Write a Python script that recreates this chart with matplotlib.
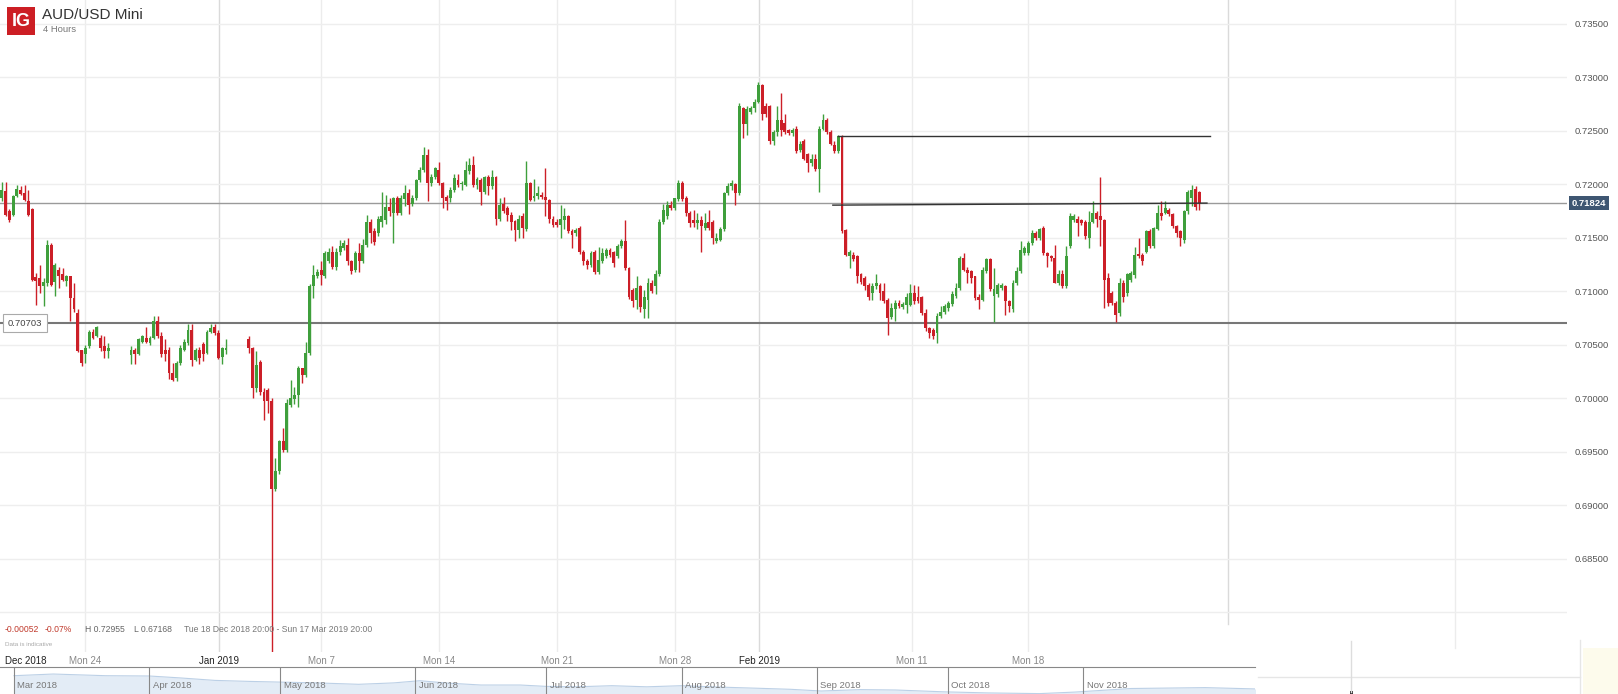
import numpy as np
import matplotlib
matplotlib.use("Agg")
import matplotlib.pyplot as plt
import matplotlib.dates as mdates
import matplotlib.transforms as mtransforms
from matplotlib.patches import Rectangle
from matplotlib.lines import Line2D
from datetime import datetime

plt.rcParams['font.family'] = ['Liberation Sans', 'DejaVu Sans']

# AUD/USD 4h candles, one slot per 4 hours (None = no candle, holidays)
opens = [
    0.7187, 0.7194, 0.7175, 0.7171, 0.7189, 0.7195, 0.7192, 0.7184, 0.7177, 0.7113,
    0.7112, 0.7105, 0.7108, 0.7143, 0.7109, 0.7120, 0.7116, 0.7110, 0.7114, 0.7094,
    0.7080, 0.7045, 0.7041, 0.7049, 0.7062, 0.7058, 0.7056, 0.7049, 0.7044, None,
    None, None, None, None, 0.7040, 0.7045, 0.7041, 0.7053, 0.7056, 0.7052,
    0.7056, 0.7072, 0.7058, 0.7045, 0.7045, 0.7024, 0.7019, 0.7033, 0.7045, 0.7052,
    0.7064, 0.7036, 0.7045, 0.7051, 0.7042, 0.7062, 0.7067, 0.7061, 0.7039, 0.7045,
    None, None, None, None, None, 0.7055, 0.7047, 0.7010, 0.7034, 0.7006,
    0.7008, 0.6997, 0.6915, 0.6932, 0.6960, 0.6952, 0.6994, 0.6999, 0.7003, 0.7028,
    0.7022, 0.7042, 0.7105, 0.7114, 0.7120, 0.7114, 0.7128, 0.7137, 0.7123, 0.7137,
    0.7140, 0.7143, 0.7128, 0.7120, 0.7136, 0.7128, 0.7143, 0.7165, 0.7156, 0.7154,
    0.7165, 0.7167, 0.7179, 0.7173, 0.7187, 0.7173, 0.7186, 0.7192, 0.7182, 0.7187,
    0.7204, 0.7213, 0.7227, 0.7201, 0.7207, 0.7213, 0.7201, 0.7188, 0.7187, 0.7195,
    0.7204, 0.7200, 0.7199, 0.7212, 0.7218, 0.7199, 0.7204, 0.7193, 0.7207, 0.7198,
    0.7207, 0.7168, 0.7182, 0.7178, 0.7171, 0.7166, 0.7157, 0.7170, 0.7158, 0.7201,
    0.7187, 0.7189, 0.7190, 0.7188, 0.7185, 0.7168, 0.7165, 0.7162, 0.7167, 0.7170,
    0.7156, 0.7154, 0.7159, 0.7137, 0.7128, 0.7125, 0.7137, 0.7118, 0.7128, 0.7133,
    0.7139, 0.7137, 0.7133, 0.7142, 0.7147, 0.7122, 0.7101, 0.7092, 0.7105, 0.7083,
    0.7092, 0.7108, 0.7105, 0.7116, 0.7165, 0.7170, 0.7181, 0.7178, 0.7186, 0.7201,
    0.7187, 0.7173, 0.7167, 0.7164, 0.7167, 0.7159, 0.7165, 0.7165, 0.7147, 0.7148,
    0.7158, 0.7192, 0.7198, 0.7200, 0.7192, 0.7271, 0.7256, 0.7268, 0.7271, 0.7277,
    0.7293, 0.7273, 0.7273, 0.7240, 0.7249, 0.7260, 0.7257, 0.7251, 0.7248, 0.7252,
    0.7232, 0.7240, 0.7228, 0.7220, 0.7224, 0.7214, 0.7252, 0.7260, 0.7249, 0.7237,
    0.7231, 0.7245, 0.7157, 0.7133, 0.7134, 0.7133, 0.7116, 0.7112, 0.7106, 0.7098,
    0.7105, 0.7106, 0.7100, 0.7092, 0.7076, 0.7083, 0.7089, 0.7085, 0.7087, 0.7087,
    0.7098, 0.7095, 0.7095, 0.7080, 0.7066, 0.7064, 0.7061, 0.7077, 0.7081, 0.7084,
    0.7088, 0.7096, 0.7103, 0.7131, 0.7120, 0.7119, 0.7114, 0.7095, 0.7092, 0.7119,
    0.7130, 0.7096, 0.7097, 0.7103, 0.7105, 0.7091, 0.7083, 0.7108, 0.7119, 0.7136,
    0.7136, 0.7145, 0.7154, 0.7150, 0.7159, 0.7136, 0.7133, 0.7131, 0.7108, 0.7116,
    0.7105, 0.7142, 0.7167, 0.7168, 0.7167, 0.7165, 0.7150, 0.7165, 0.7173, 0.7170,
    0.7167, 0.7112, 0.7098, 0.7089, 0.7080, 0.7108, 0.7098, 0.7111, 0.7115, 0.7135,
    0.7134, 0.7137, 0.7156, 0.7142, 0.7158, 0.7173, 0.7173, 0.7176, 0.7172, 0.7161,
    0.7156, 0.7148, 0.7175, 0.7187, 0.7196, 0.7193,
]
highs = [
    0.7202, 0.7202, 0.7177, 0.7190, 0.7199, 0.7198, 0.7199, 0.7195, 0.7178, 0.7117,
    0.7125, 0.7112, 0.7148, 0.7145, 0.7126, 0.7123, 0.7122, 0.7115, 0.7114, 0.7108,
    0.7083, 0.7045, 0.7050, 0.7064, 0.7065, 0.7068, 0.7059, 0.7058, 0.7052, None,
    None, None, None, None, 0.7049, 0.7047, 0.7056, 0.7059, 0.7067, 0.7058,
    0.7077, 0.7077, 0.7062, 0.7055, 0.7048, 0.7033, 0.7035, 0.7050, 0.7055, 0.7069,
    0.7069, 0.7047, 0.7048, 0.7053, 0.7064, 0.7069, 0.7069, 0.7064, 0.7048, 0.7055,
    None, None, None, None, None, 0.7058, 0.7048, 0.7044, 0.7036, 0.7010,
    0.7010, 0.7000, 0.6944, 0.6961, 0.6972, 0.6999, 0.7017, 0.7011, 0.7030, 0.7028,
    0.7053, 0.7107, 0.7125, 0.7121, 0.7128, 0.7138, 0.7140, 0.7142, 0.7140, 0.7148,
    0.7148, 0.7150, 0.7129, 0.7138, 0.7145, 0.7149, 0.7171, 0.7168, 0.7159, 0.7170,
    0.7193, 0.7190, 0.7187, 0.7188, 0.7189, 0.7190, 0.7199, 0.7196, 0.7190, 0.7205,
    0.7216, 0.7235, 0.7233, 0.7210, 0.7216, 0.7221, 0.7202, 0.7190, 0.7197, 0.7210,
    0.7210, 0.7203, 0.7222, 0.7225, 0.7226, 0.7207, 0.7206, 0.7208, 0.7209, 0.7213,
    0.7208, 0.7187, 0.7188, 0.7180, 0.7174, 0.7167, 0.7171, 0.7173, 0.7222, 0.7202,
    0.7205, 0.7198, 0.7193, 0.7215, 0.7186, 0.7170, 0.7168, 0.7181, 0.7178, 0.7171,
    0.7158, 0.7159, 0.7161, 0.7139, 0.7130, 0.7138, 0.7139, 0.7141, 0.7140, 0.7140,
    0.7140, 0.7138, 0.7144, 0.7149, 0.7167, 0.7123, 0.7103, 0.7114, 0.7106, 0.7101,
    0.7112, 0.7111, 0.7120, 0.7168, 0.7182, 0.7184, 0.7184, 0.7187, 0.7204, 0.7203,
    0.7189, 0.7175, 0.7176, 0.7173, 0.7170, 0.7173, 0.7176, 0.7167, 0.7154, 0.7160,
    0.7193, 0.7201, 0.7204, 0.7201, 0.7276, 0.7272, 0.7273, 0.7273, 0.7280, 0.72955,
    0.7294, 0.7276, 0.7274, 0.7251, 0.7273, 0.7285, 0.7266, 0.7252, 0.7253, 0.7254,
    0.7240, 0.7242, 0.7229, 0.7228, 0.7228, 0.7254, 0.7266, 0.7262, 0.7251, 0.7240,
    0.7246, 0.7246, 0.7158, 0.7139, 0.7137, 0.7134, 0.7117, 0.7114, 0.7108, 0.7108,
    0.7116, 0.7108, 0.7108, 0.7094, 0.7089, 0.7092, 0.7092, 0.7090, 0.7098, 0.7107,
    0.7106, 0.7105, 0.7096, 0.7083, 0.7067, 0.7066, 0.7080, 0.7086, 0.7088, 0.7091,
    0.7100, 0.7108, 0.7133, 0.7136, 0.7123, 0.7120, 0.7114, 0.7097, 0.7123, 0.7131,
    0.7131, 0.7122, 0.7108, 0.7108, 0.7106, 0.7092, 0.7111, 0.7123, 0.7147, 0.7142,
    0.7147, 0.7157, 0.7156, 0.7159, 0.7161, 0.7137, 0.7134, 0.7143, 0.7120, 0.7120,
    0.7142, 0.7173, 0.7172, 0.7170, 0.7168, 0.7167, 0.7175, 0.7184, 0.7175, 0.7207,
    0.7168, 0.7117, 0.7100, 0.7091, 0.7112, 0.7111, 0.7117, 0.7119, 0.7141, 0.7150,
    0.7136, 0.7157, 0.7158, 0.7160, 0.7181, 0.7184, 0.7184, 0.7178, 0.7173, 0.7162,
    0.7157, 0.7176, 0.7195, 0.7199, 0.7198, 0.7194,
]
lows = [
    0.7184, 0.7170, 0.7165, 0.7170, 0.7188, 0.7190, 0.7184, 0.7170, 0.7110, 0.7087,
    0.7098, 0.7086, 0.7105, 0.7105, 0.7096, 0.7103, 0.7110, 0.7105, 0.7072, 0.7081,
    0.7043, 0.7030, 0.7033, 0.7047, 0.7055, 0.7057, 0.7044, 0.7038, 0.7038, None,
    None, None, None, None, 0.7032, 0.7032, 0.7040, 0.7052, 0.7052, 0.7050,
    0.7055, 0.7056, 0.7039, 0.7035, 0.7018, 0.7016, 0.7016, 0.7031, 0.7044, 0.7050,
    0.7030, 0.7035, 0.7032, 0.7035, 0.7041, 0.7061, 0.7059, 0.7037, 0.7032, 0.7041,
    None, None, None, None, None, 0.7042, 0.7000, 0.7006, 0.7003, 0.6980,
    0.6986, 0.67168, 0.6913, 0.6929, 0.6950, 0.6950, 0.6992, 0.6995, 0.6992, 0.7014,
    0.7020, 0.7040, 0.7094, 0.7112, 0.7106, 0.7112, 0.7126, 0.7121, 0.7120, 0.7134,
    0.7139, 0.7125, 0.7116, 0.7118, 0.7118, 0.7126, 0.7141, 0.7145, 0.7143, 0.7152,
    0.7160, 0.7163, 0.7170, 0.7145, 0.7171, 0.7171, 0.7180, 0.7172, 0.7180, 0.7185,
    0.7202, 0.7211, 0.7184, 0.7198, 0.7205, 0.7199, 0.7178, 0.7176, 0.7183, 0.7193,
    0.7197, 0.7195, 0.7198, 0.7210, 0.7197, 0.7196, 0.7181, 0.7191, 0.7190, 0.7196,
    0.7162, 0.7166, 0.7173, 0.7166, 0.7157, 0.7147, 0.7150, 0.7150, 0.7156, 0.7184,
    0.7184, 0.7186, 0.7186, 0.7170, 0.7164, 0.7160, 0.7160, 0.7150, 0.7158, 0.7154,
    0.7140, 0.7152, 0.7135, 0.7125, 0.7121, 0.7123, 0.7116, 0.7116, 0.7126, 0.7131,
    0.7132, 0.7123, 0.7131, 0.7140, 0.7120, 0.7093, 0.7085, 0.7083, 0.7081, 0.7075,
    0.7075, 0.7098, 0.7097, 0.7114, 0.7163, 0.7168, 0.7176, 0.7176, 0.7184, 0.7184,
    0.7170, 0.7160, 0.7160, 0.7158, 0.7137, 0.7157, 0.7157, 0.7144, 0.7145, 0.7147,
    0.7156, 0.7190, 0.7195, 0.7181, 0.7190, 0.7243, 0.7246, 0.7266, 0.7268, 0.7276,
    0.7260, 0.7263, 0.7238, 0.7237, 0.7245, 0.7245, 0.7247, 0.7246, 0.7245, 0.7229,
    0.7230, 0.7223, 0.7211, 0.7217, 0.7212, 0.7193, 0.7251, 0.7247, 0.7237, 0.7229,
    0.7229, 0.7154, 0.7133, 0.7122, 0.7128, 0.7108, 0.7107, 0.7101, 0.7092, 0.7092,
    0.7102, 0.7092, 0.7089, 0.70596, 0.7074, 0.7072, 0.7084, 0.7083, 0.7080, 0.7086,
    0.7088, 0.7089, 0.7078, 0.7063, 0.7056, 0.7055, 0.7052, 0.7075, 0.7079, 0.7082,
    0.7086, 0.7094, 0.7101, 0.7119, 0.7108, 0.7108, 0.7092, 0.7083, 0.7091, 0.7117,
    0.7100, 0.7071, 0.7095, 0.7101, 0.7078, 0.7081, 0.7081, 0.7106, 0.7117, 0.7134,
    0.7134, 0.7143, 0.7148, 0.7148, 0.7134, 0.7123, 0.7128, 0.7108, 0.7106, 0.7103,
    0.7103, 0.7140, 0.7165, 0.7152, 0.7162, 0.7149, 0.7140, 0.7164, 0.7160, 0.7142,
    0.7084, 0.7086, 0.7087, 0.7071, 0.7077, 0.7090, 0.7096, 0.7109, 0.7112, 0.7131,
    0.7125, 0.7136, 0.7140, 0.7140, 0.7157, 0.7167, 0.7172, 0.7170, 0.7159, 0.7151,
    0.7142, 0.7145, 0.7172, 0.7180, 0.7176, 0.7176,
]
closes = [
    0.7195, 0.7171, 0.7167, 0.7189, 0.7196, 0.7191, 0.7185, 0.7171, 0.7111, 0.7110,
    0.7105, 0.7109, 0.7143, 0.7106, 0.7125, 0.7114, 0.7111, 0.7114, 0.7094, 0.7083,
    0.7044, 0.7033, 0.7047, 0.7062, 0.7056, 0.7067, 0.7047, 0.7044, 0.7047, None,
    None, None, None, None, 0.7045, 0.7041, 0.7055, 0.7058, 0.7053, 0.7056,
    0.7072, 0.7058, 0.7041, 0.7041, 0.7024, 0.7017, 0.7033, 0.7047, 0.7053, 0.7064,
    0.7036, 0.7045, 0.7038, 0.7041, 0.7062, 0.7066, 0.7061, 0.7038, 0.7047, 0.7047,
    None, None, None, None, None, 0.7047, 0.7010, 0.7031, 0.7006, 0.6997,
    0.6997, 0.6915, 0.6932, 0.6960, 0.6952, 0.6996, 0.7000, 0.7003, 0.7028, 0.7022,
    0.7042, 0.7105, 0.7115, 0.7118, 0.7115, 0.7136, 0.7137, 0.7123, 0.7137, 0.7142,
    0.7145, 0.7128, 0.7119, 0.7136, 0.7128, 0.7143, 0.7165, 0.7154, 0.7146, 0.7168,
    0.7170, 0.7179, 0.7175, 0.7187, 0.7173, 0.7187, 0.7192, 0.7181, 0.7187, 0.7204,
    0.7213, 0.7227, 0.7201, 0.7207, 0.7215, 0.7201, 0.7187, 0.7184, 0.7195, 0.7206,
    0.7199, 0.7201, 0.7213, 0.7218, 0.7199, 0.7205, 0.7193, 0.7207, 0.7198, 0.7207,
    0.7168, 0.7181, 0.7175, 0.7171, 0.7165, 0.7157, 0.7168, 0.7159, 0.7201, 0.7185,
    0.7189, 0.7192, 0.7188, 0.7185, 0.7168, 0.7162, 0.7162, 0.7168, 0.7170, 0.7156,
    0.7153, 0.7157, 0.7137, 0.7128, 0.7125, 0.7136, 0.7118, 0.7129, 0.7136, 0.7139,
    0.7134, 0.7126, 0.7142, 0.7147, 0.7122, 0.7095, 0.7091, 0.7103, 0.7085, 0.7095,
    0.7108, 0.7100, 0.7116, 0.7165, 0.7176, 0.7181, 0.7178, 0.7187, 0.7201, 0.7186,
    0.7173, 0.7164, 0.7164, 0.7167, 0.7161, 0.7164, 0.7159, 0.7150, 0.7150, 0.7158,
    0.7192, 0.7198, 0.7201, 0.7192, 0.7273, 0.7256, 0.7270, 0.7271, 0.7277, 0.7293,
    0.7266, 0.7266, 0.7240, 0.7249, 0.7260, 0.7251, 0.7249, 0.7248, 0.7251, 0.7231,
    0.7238, 0.7224, 0.7220, 0.7224, 0.7214, 0.7252, 0.7260, 0.7249, 0.7238, 0.7231,
    0.7245, 0.7156, 0.7134, 0.7137, 0.7130, 0.7114, 0.7109, 0.7105, 0.7095, 0.7105,
    0.7108, 0.7098, 0.7091, 0.7075, 0.7084, 0.7089, 0.7086, 0.7088, 0.7095, 0.7098,
    0.7091, 0.7091, 0.7080, 0.7066, 0.7061, 0.7058, 0.7077, 0.7081, 0.7086, 0.7089,
    0.7097, 0.7103, 0.7131, 0.7120, 0.7117, 0.7112, 0.7094, 0.7092, 0.7120, 0.7130,
    0.7102, 0.7102, 0.7106, 0.7106, 0.7091, 0.7086, 0.7108, 0.7119, 0.7139, 0.7140,
    0.7145, 0.7154, 0.7150, 0.7158, 0.7136, 0.7133, 0.7131, 0.7108, 0.7116, 0.7105,
    0.7133, 0.7170, 0.7170, 0.7164, 0.7164, 0.7152, 0.7165, 0.7173, 0.7168, 0.7167,
    0.7111, 0.7089, 0.7089, 0.7078, 0.7108, 0.7095, 0.7116, 0.7117, 0.7134, 0.7133,
    0.7128, 0.7156, 0.7142, 0.7159, 0.7173, 0.7170, 0.7178, 0.7172, 0.7161, 0.7154,
    0.7150, 0.7175, 0.7193, 0.7195, 0.7179, 0.71824,
]

# price axis
price_levels = [0.680, 0.685, 0.690, 0.695, 0.700, 0.705, 0.710, 0.715, 0.720, 0.725, 0.730, 0.735]
price_labels = ["", "0.68500", "0.69000", "0.69500", "0.70000", "0.70500",
                "0.71000", "0.71500", "0.72000", "0.72500", "0.73000", "0.73500"]

# time axis, in candle slots
date_ticks = [22.0, 57.2, 84.1, 115.1, 146.1, 177.1, 199.3, 239.3, 270.0]
date_labels = ["Mon 24", "Jan 2019", "Mon 7", "Mon 14", "Mon 21", "Mon 28", "Feb 2019", "Mon 11", "Mon 18"]
extra_grid = [322.5, 382.2]
extra_is_month = [True, False]

# drawn levels
last_price = 0.71824
support = 0.70703
upper_x = [220.0, 317.8]
upper_y = [0.7245, 0.7245]
neck_x = [218.6, 317.0]
neck_y = [0.71805, 0.71824]

# navigator (Mar 2018 - Dec 2018)
nav_dates = ["2018-03-01", "2018-03-10", "2018-03-22", "2018-04-01", "2018-04-08", "2018-04-16",
             "2018-04-24", "2018-04-30", "2018-05-10", "2018-05-19", "2018-05-27", "2018-06-02",
             "2018-06-08", "2018-06-16", "2018-06-25", "2018-07-01", "2018-07-08", "2018-07-16",
             "2018-07-24", "2018-08-01", "2018-08-09", "2018-08-18", "2018-08-26", "2018-09-02",
             "2018-09-11", "2018-09-19", "2018-09-30", "2018-10-10", "2018-10-22", "2018-10-30",
             "2018-11-12", "2018-11-29", "2018-12-11"]
nav_level = [0.7730, 0.7799, 0.7730, 0.7718, 0.7640, 0.7537, 0.7495, 0.7471, 0.7430, 0.7376,
             0.7434, 0.7524, 0.7430, 0.7347, 0.7347, 0.7290, 0.7273, 0.7319, 0.7273, 0.7319,
             0.7265, 0.7216, 0.7170, 0.7100, 0.7158, 0.7142, 0.7067, 0.7022, 0.6993, 0.7055,
             0.7203, 0.7240, 0.7183]
nav_months = ["2018-03-01", "2018-04-01", "2018-05-01", "2018-06-01", "2018-07-01",
              "2018-08-01", "2018-09-01", "2018-10-01", "2018-11-01"]
nav_month_labels = ["Mar 2018", "Apr 2018", "May 2018", "Jun 2018", "Jul 2018",
                    "Aug 2018", "Sep 2018", "Oct 2018", "Nov 2018"]

GREEN = '#3f9f3c'
RED = '#cc1f28'
W, H = 1618, 694

fig = plt.figure(figsize=(W / 100, H / 100), dpi=100)
ax = fig.add_axes([0, 42 / H, 1567 / W, 652 / H])
ax.set_facecolor('none')
for s in ax.spines.values():
    s.set_visible(False)

o = np.array(opens, dtype=float)
h = np.array(highs, dtype=float)
l = np.array(lows, dtype=float)
c = np.array(closes, dtype=float)
x = np.arange(len(o))
ok = ~np.isnan(o)
col = np.where(c >= o, GREEN, RED)

ax.vlines(x[ok], l[ok], h[ok], colors=col[ok], lw=1, zorder=3)
body = np.maximum(np.abs(c - o), 0.0001)
ax.bar(x[ok], body[ok], bottom=np.minimum(o, c)[ok], width=0.76, color=col[ok], lw=0, zorder=4)

ax.set_xlim(-0.45, 411.7)
ax.set_ylim(0.67629, 0.73722)

# grid
ax.set_yticks(price_levels)
ax.set_yticklabels(price_labels)
ax.yaxis.tick_right()
ax.tick_params(axis='y', length=0, pad=5.8, labelsize=6.8, labelcolor='#555555')
ax.grid(axis='y', color='#eeeeee', lw=1)
ax.set_axisbelow(True)

ax.set_xticks(date_ticks)
ax.set_xticklabels(date_labels)
ax.tick_params(axis='x', length=0, pad=3, labelsize=7, labelcolor='#888888')
for lbl in ax.get_xticklabels():
    if not lbl.get_text().startswith('Mon'):
        lbl.set_color('#222222')
for pos, lab in zip(date_ticks, date_labels):
    ax.axvline(pos, color='#dadada' if not lab.startswith('Mon') else '#ececec', lw=1, zorder=0)
for pos, m in zip(extra_grid, extra_is_month):
    ax.axvline(pos, ymin=0.043 if m else 0.006, color='#dadada' if m else '#ececec', lw=1, zorder=0)
ax.text(5 / 1567, -4.2 / 652, 'Dec 2018', transform=ax.transAxes, va='top', ha='left',
        fontsize=7, color='#222222')

# levels
ax.axhline(last_price, color='#9a9a9a', lw=1, zorder=2)
ax.axhline(support, color='#777777', lw=1.5, zorder=2)
ax.plot(upper_x, upper_y, color='#333333', lw=1, zorder=5)
ax.plot(neck_x, neck_y, color='#333333', lw=1, zorder=5)

blend = mtransforms.blended_transform_factory(ax.transAxes, ax.transData)
ax.text(1 + 5 / 1567, last_price, '0.71824', transform=blend, ha='left', va='center',
        fontsize=6.8, color='white', fontweight='bold', zorder=6,
        bbox=dict(boxstyle='square,pad=0.3', fc='#3e5672', ec='none'))
ax.text(8 / 1567, support, '0.70703', transform=blend, ha='left', va='center',
        fontsize=6.8, color='#444444', zorder=6,
        bbox=dict(boxstyle='square,pad=0.5', fc='white', ec='#aaaaaa', lw=0.8))

# info line
info = [(5, '-0.00052', '#c0392b'), (45, '-0.07%', '#c0392b'), (85, 'H 0.72955', '#666666'),
        (134, 'L 0.67168', '#666666'), (184, 'Tue 18 Dec 2018 20:00 - Sun 17 Mar 2019 20:00', '#777777')]
for px, txt, clr in info:
    ax.text(px / 1567, 22 / 652, txt, transform=ax.transAxes, ha='left', va='center',
            fontsize=6.2, color=clr, zorder=6)
ax.text(5 / 1567, 8 / 652, 'Data is indicative', transform=ax.transAxes, ha='left', va='center',
        fontsize=4.5, color='#aaaaaa')

# title
fig.patches.append(Rectangle((7 / W, 1 - 35 / H), 28 / W, 28 / H, transform=fig.transFigure,
                             fc='#cc1e24', ec='none', zorder=5))
fig.text(21 / W, 1 - 21.5 / H, 'IG', color='white', fontweight='bold', fontsize=13,
         ha='center', va='center', zorder=6)
fig.text(42 / W, 1 - 15 / H, 'AUD/USD Mini', color='#333333', fontsize=11, ha='left', va='center')
fig.text(43 / W, 1 - 29 / H, '4 Hours', color='#777777', fontsize=6.8, ha='left', va='center')

# navigator
nav = fig.add_axes([0, 0, 1255 / W, 27 / H])
nav.set_facecolor('none')
for k, s in nav.spines.items():
    s.set_visible(k == 'top')
nav.spines['top'].set_color('#888888')
nav.spines['top'].set_linewidth(0.8)
nd = mdates.date2num([datetime.strptime(d, "%Y-%m-%d") for d in nav_dates])
start = mdates.date2num(datetime(2018, 3, 1))
nav.set_xlim(start - 3.21, start + 284.4)
nav.set_ylim(0.6977, 0.8088)
nav.fill_between(nd, nav_level, 0.6977, color='#e3ecf6', lw=0)
nav.plot(nd, nav_level, color='#bcd0e6', lw=0.8)
nav.set_xticks([])
nav.set_yticks([])
ntr = mtransforms.blended_transform_factory(nav.transData, nav.transAxes)
for d, lab in zip(nav_months, nav_month_labels):
    md = mdates.date2num(datetime.strptime(d, "%Y-%m-%d"))
    nav.axvline(md, color='#888888', lw=0.8)
    nav.annotate(lab, (md, 0.30), xycoords=ntr, xytext=(2.5, 0), textcoords='offset points',
                 fontsize=6.8, color='#777777', va='center', ha='left')

# navigator window frame on the right
fig.add_artist(Line2D([1258 / W, 1580 / W], [1 - 677 / H, 1 - 677 / H], color='#e6e6e6', lw=1))
fig.add_artist(Line2D([1580 / W, 1580 / W], [0, 1 - 640 / H], color='#e6e6e6', lw=1))
fig.add_artist(Line2D([1351 / W, 1351 / W], [2 / H, 1 - 641 / H], color='#dddddd', lw=1))
fig.patches.append(Rectangle((1583 / W, 0), 35 / W, 46 / H, transform=fig.transFigure,
                             fc='#fdfbec', ec='none', zorder=0))
fig.patches.append(Rectangle((1349.5 / W, 0), 3 / W, 3 / H, transform=fig.transFigure,
                             fc='#333333', ec='none', zorder=1))

fig.savefig('out.png', dpi=100)
